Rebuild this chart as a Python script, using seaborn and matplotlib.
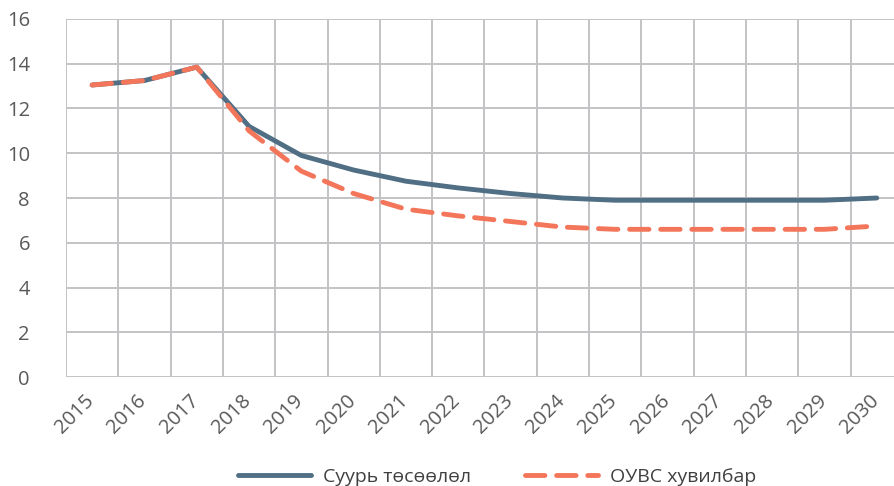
import pandas as pd
import matplotlib.pyplot as plt
import matplotlib.transforms as mtransforms
import seaborn as sns

# Data
years = [str(y) for y in range(2015, 2031)]
base_case = [13.05, 13.25, 13.85, 11.2, 9.9, 9.25, 8.75, 8.45, 8.2, 8.0, 7.9, 7.9, 7.9, 7.9, 7.9, 8.0]
imf_case = [13.05, 13.25, 13.85, 11.0, 9.2, 8.2, 7.5, 7.2, 6.95, 6.7, 6.6, 6.6, 6.6, 6.6, 6.6, 6.75]
series_names = ["Суурь төсөөлөл", "ОУВС хувилбар"]

df = pd.DataFrame({"pos": range(len(years)), "base": base_case, "imf": imf_case})

sns.set_style("white")
plt.rcParams["font.family"] = ["Open Sans", "DejaVu Sans"]

fig = plt.figure(figsize=(8.94, 4.86), dpi=100)
ax = fig.add_axes([66 / 894, 109 / 486, 828 / 894, 358 / 486])

grid_color = "#C3C3C6"
sns.lineplot(data=df, x="pos", y="base", ax=ax, color="#506E84", linewidth=3.5,
             solid_capstyle="round", label=series_names[0])
sns.lineplot(data=df, x="pos", y="imf", ax=ax, color="#F4765A", linewidth=3.5,
             label=series_names[1])
ax.lines[1].set_dashes((4.0, 2.4))
ax.lines[1].set_dash_capstyle("round")

ax.set_xlim(-0.5, 15.33)
ax.set_ylim(0, 16)
ax.set_yticks(range(0, 17, 2))
ax.set_xticks(range(len(years)))
ax.set_xticklabels(years, rotation=45, ha="right", rotation_mode="anchor")

# vertical gridlines on category boundaries, horizontal on y ticks
for b in range(len(years) + 1):
    ax.axvline(b - 0.5, color=grid_color, linewidth=1.4, zorder=0)
for v in range(0, 17, 2):
    ax.axhline(v, color=grid_color, linewidth=1.4, zorder=0)

for s in ax.spines.values():
    s.set_visible(False)
ax.tick_params(axis="y", length=0, pad=26, labelsize=14.5, labelcolor="#595959")
ax.tick_params(axis="x", length=0, pad=10, labelsize=14.5, labelcolor="#595959")
shift = mtransforms.ScaledTranslation(-8 / 100, 0, fig.dpi_scale_trans)
for lbl in ax.get_xticklabels():
    lbl.set_transform(lbl.get_transform() + shift)
ax.set_xlabel("")
ax.set_ylabel("")

handles, labels = ax.get_legend_handles_labels()
ax.get_legend().remove()
fig.legend(handles, labels, loc="center", bbox_to_anchor=(0.556, 0.018), ncol=2,
           frameon=False, fontsize=14, handlelength=3.75, columnspacing=2.8,
           handletextpad=0.6, labelcolor="#404040")

fig.savefig("out.png", dpi=100)
